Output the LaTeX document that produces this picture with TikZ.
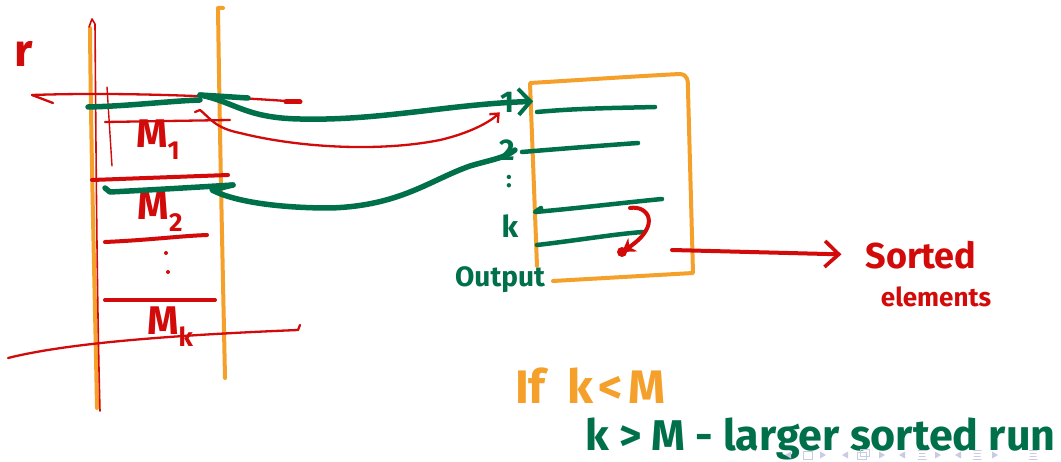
\documentclass[tikz,border=0pt]{standalone}
\usepackage{fontspec}
\setmainfont{Fira Sans}
\usetikzlibrary{arrows.meta}
\definecolor{inkred}{HTML}{D20A0A}
\definecolor{inkgreen}{HTML}{00704A}
\definecolor{inkorange}{HTML}{F5A02A}
\definecolor{navgray}{HTML}{C9CBE3}
\newcommand\lowidx[1]{\raisebox{-0.3em}{\fontsize{26}{26}\selectfont #1}}

\begin{document}
\begin{tikzpicture}[x=1pt,y=-1pt,line cap=round,line join=round,
  redpen/.style={draw=inkred,line width=2.3pt},
  redmarker/.style={draw=inkred,line width=4pt},
  greenmarker/.style={draw=inkgreen,line width=5.5pt},
  orangepen/.style={draw=inkorange,line width=4pt},
  redlabel/.style={text=inkred,inner sep=0pt,font=\bfseries\fontsize{40}{40}\selectfont},
  greenlabel/.style={text=inkgreen,inner sep=0pt,font=\bfseries\fontsize{30}{30}\selectfont},
  notelabel/.style={inner sep=0pt,anchor=base west,font=\bfseries\fontsize{43}{43}\selectfont},
  navtip/.style={fill=navgray,draw=none}]
\useasboundingbox (0,0) rectangle (1061,462);
\fill[white] (0,0) rectangle (1061,462);

% ---------------- memory column ----------------
\draw[orangepen] (90,28) .. controls (91,150) and (95,300) .. (97,408);
\draw[orangepen] (223,8) -- (218,8) .. controls (220,150) and (223,280) .. (225,378);
\draw[redpen,line width=1.6pt] (89,27) -- (92,19) -- (95,24)
  .. controls (96,150) and (97,300) .. (100,411);
\draw[redpen,line width=1.4pt] (107,87) -- (112,166);

% run boundaries
\coordinate (rL) at (32,95);
\coordinate (rR) at (300,102);
\draw[redpen] (rL) .. controls (120,92) and (220,96) .. (rR);
\draw[redpen] (rL) -- (53,103);
\draw[redmarker,line width=5pt] (286,102) -- (rR);
\draw[redpen] (105,122) -- (230,120);
\draw[redmarker] (92,180) -- (228,175);
\draw[redmarker] (105,242) .. controls (150,240) and (180,236) .. (207,235);
\draw[redmarker] (105,300) -- (215,300);
\coordinate (bL) at (8,358);
\coordinate (bR) at (298,330);
\draw[redpen] (bL) .. controls (60,345) and (150,336) .. (bR) -- (300,325);
\fill[inkred] (166,253) circle (2pt) (168,272) circle (2pt);

\node[redlabel,font=\bfseries\fontsize{46}{46}\selectfont] (r) at (24,54) {r};
\node[redlabel] (m1) at (158,140) {M\lowidx{1}};
\node[redlabel] (m2) at (160,212) {M\lowidx{2}};
\node[redlabel] (mk) at (170,327) {M\lowidx{k}};

% ---------------- output buffer ----------------
\draw[orangepen] (537,266) -- (530,83) .. controls (580,80) and (640,76) .. (680,74)
  .. controls (688,75) and (688,80) .. (688,90) -- (693,273) -- (553,281);

\node[greenlabel] (o1) at (507,102) {1};
\node[greenlabel] (o2) at (507,150) {2};
\node[greenlabel] (ok) at (510,226) {k};
\node[greenlabel,font=\bfseries\fontsize{24}{24}\selectfont] (odots) at (509,182) {:};
\node[greenlabel,font=\bfseries\fontsize{28}{28}\selectfont] (out) at (500,280) {Output};

\draw[greenmarker,line width=4.5pt] (537,112) .. controls (580,108) and (620,108) .. (655,107);
\draw[greenmarker,line width=4.5pt] (522,152) .. controls (570,148) and (610,145) .. (638,143);
\draw[greenmarker,line width=4.5pt] (541,208) -- (535,212) .. controls (580,208) and (630,202) .. (662,199);
\draw[greenmarker,line width=4.5pt] (537,245) .. controls (580,240) and (615,234) .. (643,232);

% merge pointer inside the buffer
\coordinate (cs) at (630,208);
\coordinate (ce) at (622,252);
\draw[redmarker,-{Stealth[length=13pt,width=16pt]}] (cs) .. controls (648,205) and (662,225) .. (ce);
\fill[inkred] (ce) circle (5pt);

% ---------------- runs feeding the buffer ----------------
\coordinate (g1a) at (88,107);
\coordinate (g1b) at (200,100);
\coordinate (g1c) at (248,98);
\draw[greenmarker] (g1a) .. controls (130,106) and (170,101) .. (g1b);
\draw[greenmarker] (g1c) -- (200,95);
\draw[greenmarker,shorten >=-19pt,-{Straight Barb[length=12pt,width=26pt,line width=4pt]}]
  (200,95) .. controls (235,102) and (245,118) .. (300,119)
  .. controls (380,121) and (450,104) .. (o1.east);

\coordinate (r1) at (195,112);
\draw[redpen,-{Straight Barb[length=7pt,width=12pt]}]
  (r1) -- (200,110) .. controls (210,118) and (215,128) .. (240,133)
  .. controls (300,148) and (380,152) .. (440,140) .. controls (470,133) and (490,122) .. (o1.south west);

\coordinate (g2a) at (105,188);
\coordinate (g2b) at (233,185);
\draw[greenmarker] (g2a) -- (110,192) .. controls (150,190) and (200,187) .. (g2b);
\draw[greenmarker] (g2b) -- (212,190)
  .. controls (235,202) and (280,208) .. (330,208)
  .. controls (400,206) and (430,180) .. (470,166) .. controls (490,160) and (505,158) .. (o2.east);

% sorted output leaves the buffer
\coordinate (sOut) at (672,250);
\node[redlabel,font=\bfseries\fontsize{36}{36}\selectfont] (sorted) at (921,255) {Sorted};
\node[redlabel,font=\bfseries\fontsize{26}{26}\selectfont] (elems) at (936,297) {elements};
\draw[redmarker,shorten >=24pt,-{Straight Barb[length=14pt,width=26pt,line width=3.6pt]}] (sOut) -- (sorted.west);

% ---------------- notes ----------------
\node[notelabel,text=inkorange,font=\bfseries\fontsize{47}{47}\selectfont] (note1) at (515,403)
  {If\hspace{22pt}k\hspace{5pt}<\hspace{5pt}M};
\node[notelabel,text=inkgreen] (note2) at (585,450) {k > M - larger sorted run};

% ---------------- beamer navigation symbols ----------------
\foreach \x in {788,845,902,958} \fill[navtip] (\x-3,455) -- (\x+3,451.5) -- (\x+3,458.5) -- cycle;
\foreach \x in {823,882,938,995} \fill[navtip] (\x+3,455) -- (\x-3,451.5) -- (\x-3,458.5) -- cycle;
\draw[navgray,line width=1pt] (803,451) rectangle (812,459);
\draw[navgray,line width=1pt] (857,452) rectangle (866,459) (860,449) rectangle (869,456);
\foreach \x in {922,977,1033}
  \draw[navgray,line width=1pt] (\x-4,450) -- (\x+4,450) (\x-3,453) -- (\x+3,453)
    (\x-3,456) -- (\x+3,456) (\x-4,459) -- (\x+4,459);
\end{tikzpicture}
\end{document}
